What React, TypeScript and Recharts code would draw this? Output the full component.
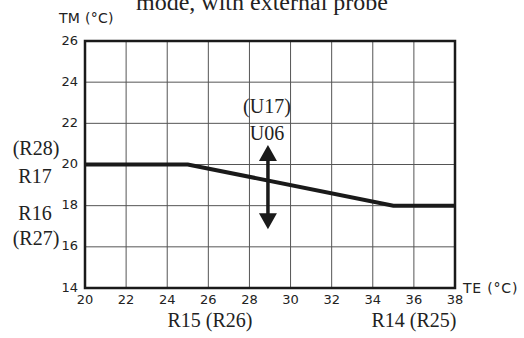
import {
  ComposedChart, Line, Scatter, XAxis, YAxis, CartesianGrid, ReferenceArea, ReferenceLine,
} from "recharts";

const teValues = [20, 25, 35, 38];
const tmValues = [20, 20, 18, 18];
const xTicks = [20, 22, 24, 26, 28, 30, 32, 34, 36, 38];
const yTicks = [14, 16, 18, 20, 22, 24, 26];

// double arrow showing the U06 offset
const arrowX = 28.9;
const arrowTop = 20.95;
const arrowBottom = 16.85;

const SERIF = "'Liberation Serif', 'DejaVu Serif', serif";
const SANS = "'DejaVu Sans', sans-serif";

const curve = teValues.map((te, i) => ({ te, tm: tmValues[i] }));
const heads = [
  { te: arrowX, tm: arrowTop, dir: "up" },
  { te: arrowX, tm: arrowBottom, dir: "down" },
];

function ArrowHead(props: any) {
  const { cx, cy, payload } = props;
  const s = payload.dir === "up" ? 1 : -1;
  const w = 9;
  const h = 16;
  return (
    <polygon
      points={`${cx},${cy} ${cx - w},${cy + s * h} ${cx + w},${cy + s * h}`}
      fill="#1a1a1a"
    />
  );
}

function T({ x, y, children, anchor = "middle", size = 20, font = SERIF, spacing = 0 }: any) {
  return (
    <text x={x} y={y} textAnchor={anchor} fontFamily={font} fontSize={size} fill="#222" letterSpacing={spacing}>
      {children}
    </text>
  );
}

export default function App() {
  return (
    <div style={{ position: "fixed", left: 0, top: 0, width: 524, height: 338, background: "#fff", overflow: "hidden" }}>
      <ComposedChart width={524} height={338} data={curve} margin={{ top: 41, right: 69, bottom: 20, left: 55 }}>
        <CartesianGrid stroke="#555" strokeWidth={1} />
        <XAxis
          dataKey="te" type="number" domain={[20, 38]} ticks={xTicks} interval={0}
          axisLine={false} tickLine={false} tickSize={0} tickMargin={7} height={30}
          tick={{ fontSize: 13, fill: "#222", fontFamily: SANS }}
        />
        <YAxis
          type="number" domain={[14, 26]} ticks={yTicks} interval={0} width={30}
          axisLine={false} tickLine={false} tickSize={0} tickMargin={7}
          tick={{ fontSize: 13, fill: "#222", fontFamily: SANS, dy: -1 }}
        />
        <ReferenceArea x1={20} x2={38} y1={14} y2={26} fill="none" fillOpacity={0} stroke="#1a1a1a" strokeWidth={2.5} ifOverflow="visible" />
        <Line dataKey="tm" stroke="#1a1a1a" strokeWidth={4} dot={false} type="linear" isAnimationActive={false} />
        <ReferenceLine
          segment={[{ x: arrowX, y: arrowBottom + 0.4 }, { x: arrowX, y: arrowTop - 0.4 }]}
          stroke="#1a1a1a" strokeWidth={3.5}
        />
        <Scatter data={heads} dataKey="tm" shape={ArrowHead} isAnimationActive={false} />
      </ComposedChart>

      <svg width={524} height={338} style={{ position: "absolute", left: 0, top: 0, pointerEvents: "none" }}>
        <T x={262} y={10} size={24}>mode, with external probe</T>
        <T x={59} y={23} anchor="start" size={14} font={SANS} spacing={0.3}>TM (°C)</T>
        <T x={463} y={293} anchor="start" size={14} font={SANS} spacing={0.8}>TE (°C)</T>
        <T x={267} y={113}>(U17)</T>
        <T x={267} y={140}>U06</T>
        <T x={36} y={155}>(R28)</T>
        <T x={35} y={183}>R17</T>
        <T x={35} y={220}>R16</T>
        <T x={36} y={245}>(R27)</T>
        <T x={210} y={327}>R15 (R26)</T>
        <T x={414} y={327}>R14 (R25)</T>
      </svg>
    </div>
  );
}
